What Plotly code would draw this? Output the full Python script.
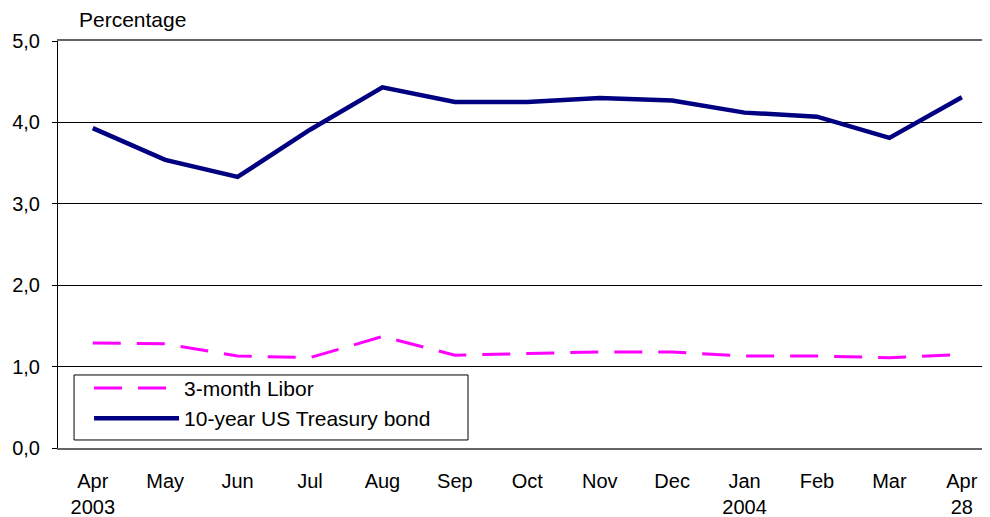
import plotly.graph_objects as go

months = ["Apr<br>2003", "May", "Jun", "Jul", "Aug", "Sep", "Oct", "Nov",
          "Dec", "Jan<br>2004", "Feb", "Mar", "Apr<br>28"]
libor_3m = [1.29, 1.28, 1.13, 1.11, 1.37, 1.14, 1.16, 1.18, 1.18, 1.13, 1.13, 1.11, 1.15]
treasury_10y = [3.93, 3.54, 3.33, 3.91, 4.43, 4.25, 4.25, 4.30, 4.27, 4.12, 4.07, 3.81, 4.31]
y_ticks = [0, 1, 2, 3, 4, 5]

FONT = "Liberation Sans, Arial, sans-serif"
idx = list(range(len(months)))

fig = go.Figure()
fig.add_trace(go.Scatter(
    x=idx, y=libor_3m, mode="lines", name="3-month Libor",
    line=dict(color="#FF00FF", width=3, dash="28px,16px"),
))
fig.add_trace(go.Scatter(
    x=idx, y=treasury_10y, mode="lines", name="10-year US Treasury bond",
    line=dict(color="#000080", width=4.5),
))

fig.update_layout(
    width=982, height=509,
    margin=dict(l=50, r=5, t=33, b=69),
    paper_bgcolor="white", plot_bgcolor="white",
    font=dict(family=FONT, size=20, color="black"),
    separators=",.",
    showlegend=True,
    legend=dict(
        x=0.0335, y=0.197, xanchor="left", yanchor="top",
        bgcolor="rgba(0,0,0,0)", borderwidth=0,
        font=dict(family=FONT, size=21, color="black"),
        tracegroupgap=0, itemwidth=85,
    ),
    shapes=[dict(
        type="rect", xref="paper", yref="paper",
        x0=0.0173, x1=0.4423, y0=0.0197, y1=0.1794,
        line=dict(color="black", width=1), fillcolor="white", layer="above",
    )],
    xaxis=dict(
        tickmode="array", tickvals=idx, ticktext=months,
        range=[-0.48, 12.32],
        showgrid=False, zeroline=False,
        showline=True, mirror=True, linecolor="#666666", linewidth=1.5,
        ticks="", tickfont=dict(size=20), ticklabelstandoff=14,
        automargin=False,
    ),
    yaxis=dict(
        range=[0, 5], tickvals=y_ticks, tickformat=".1f",
        showgrid=True, gridcolor="black", gridwidth=1,
        zeroline=False, showline=True, linecolor="black", linewidth=1,
        ticks="outside", ticklen=5, tickcolor="black",
        tickfont=dict(size=20), ticklabelstandoff=8,
        automargin=False,
    ),
    annotations=[dict(
        text="Percentage", xref="paper", yref="paper",
        x=0.0205, y=1, xanchor="left", yanchor="middle", yshift=22,
        showarrow=False, font=dict(family=FONT, size=21, color="black"),
    )],
)

fig.write_html("out.html")
